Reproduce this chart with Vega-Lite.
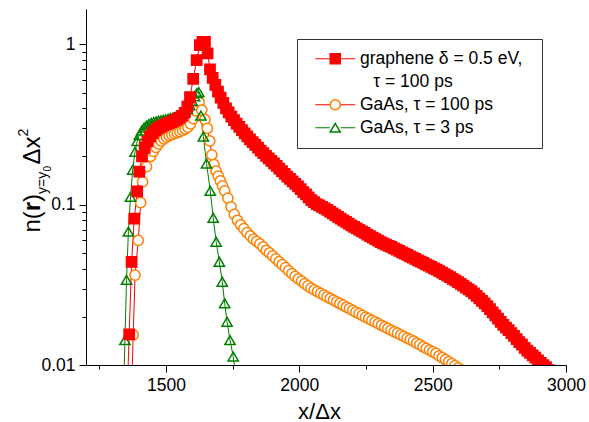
{
  "$schema": "https://vega.github.io/schema/vega-lite/v6.json",
  "width": 480,
  "height": 356,
  "autosize": {"type": "none"},
  "padding": {"left": 86, "top": 9, "right": 23, "bottom": 57},
  "background": "white",
  "config": {
    "font": "Liberation Sans",
    "view": {"stroke": null},
    "axis": {
      "domainColor": "black", "domainWidth": 1, "tickColor": "black", "tickWidth": 1,
      "labelColor": "black", "labelFont": "Liberation Sans", "labelFontSize": 17.5,
      "titleColor": "black", "titleFont": "Liberation Sans", "titleFontWeight": "normal",
      "grid": false, "labelFlush": false, "labelOverlap": false, "labelBound": false
    },
    "legend": {"labelFont": "Liberation Sans", "labelFontSize": 17.5}
  },
  "datasets": {
    "curves": [
      {"s":"GaAs100","x":1370,"n":0.006},{"s":"GaAs100","x":1377,"n":0.0154},{"s":"GaAs100","x":1384,"n":0.0364},{"s":"GaAs100","x":1396,"n":0.060},
      {"s":"GaAs100","x":1405,"n":0.103},{"s":"GaAs100","x":1412,"n":0.139},{"s":"GaAs100","x":1427,"n":0.173},{"s":"GaAs100","x":1442,"n":0.200},
      {"s":"GaAs100","x":1452,"n":0.215},{"s":"GaAs100","x":1462,"n":0.228},{"s":"GaAs100","x":1472,"n":0.240},{"s":"GaAs100","x":1482,"n":0.250},
      {"s":"GaAs100","x":1492,"n":0.258},{"s":"GaAs100","x":1502,"n":0.264},{"s":"GaAs100","x":1512,"n":0.270},{"s":"GaAs100","x":1522,"n":0.274},
      {"s":"GaAs100","x":1532,"n":0.278},{"s":"GaAs100","x":1542,"n":0.282},{"s":"GaAs100","x":1552,"n":0.286},{"s":"GaAs100","x":1562,"n":0.291},
      {"s":"GaAs100","x":1572,"n":0.297},{"s":"GaAs100","x":1582,"n":0.305},{"s":"GaAs100","x":1592,"n":0.320},{"s":"GaAs100","x":1602,"n":0.345},
      {"s":"GaAs100","x":1612,"n":0.385},{"s":"GaAs100","x":1624,"n":0.436},{"s":"GaAs100","x":1634,"n":0.390},{"s":"GaAs100","x":1646,"n":0.340},
      {"s":"GaAs100","x":1655,"n":0.300},{"s":"GaAs100","x":1664,"n":0.250},{"s":"GaAs100","x":1672,"n":0.205},{"s":"GaAs100","x":1680,"n":0.178},
      {"s":"GaAs100","x":1688,"n":0.162},{"s":"GaAs100","x":1696,"n":0.151},{"s":"GaAs100","x":1704,"n":0.141},{"s":"GaAs100","x":1712,"n":0.131},
      {"s":"GaAs100","x":1720,"n":0.122},{"s":"GaAs100","x":1732,"n":0.110},{"s":"GaAs100","x":1744,"n":0.097},{"s":"GaAs100","x":1756,"n":0.087},
      {"s":"GaAs100","x":1768,"n":0.080},{"s":"GaAs100","x":1780,"n":0.075},{"s":"GaAs100","x":1792,"n":0.071},{"s":"GaAs100","x":1804,"n":0.067},
      {"s":"GaAs100","x":1816,"n":0.064},{"s":"GaAs100","x":1828,"n":0.061},{"s":"GaAs100","x":1840,"n":0.059},{"s":"GaAs100","x":1852,"n":0.057},
      {"s":"GaAs100","x":1864,"n":0.0545},{"s":"GaAs100","x":1876,"n":0.052},{"s":"GaAs100","x":1888,"n":0.050},{"s":"GaAs100","x":1900,"n":0.048},
      {"s":"GaAs100","x":1912,"n":0.046},{"s":"GaAs100","x":1924,"n":0.0441},{"s":"GaAs100","x":1936,"n":0.0423},{"s":"GaAs100","x":1948,"n":0.0405},
      {"s":"GaAs100","x":1960,"n":0.0388},{"s":"GaAs100","x":1972,"n":0.0372},{"s":"GaAs100","x":1984,"n":0.0357},{"s":"GaAs100","x":1996,"n":0.0345},
      {"s":"GaAs100","x":2008,"n":0.0334},{"s":"GaAs100","x":2020,"n":0.0322},{"s":"GaAs100","x":2032,"n":0.0312},{"s":"GaAs100","x":2044,"n":0.0302},
      {"s":"GaAs100","x":2056,"n":0.0294},{"s":"GaAs100","x":2068,"n":0.0287},{"s":"GaAs100","x":2080,"n":0.0280},{"s":"GaAs100","x":2092,"n":0.0273},
      {"s":"GaAs100","x":2104,"n":0.0266},{"s":"GaAs100","x":2116,"n":0.0260},{"s":"GaAs100","x":2128,"n":0.0254},{"s":"GaAs100","x":2140,"n":0.0248},
      {"s":"GaAs100","x":2152,"n":0.0242},{"s":"GaAs100","x":2164,"n":0.0236},{"s":"GaAs100","x":2176,"n":0.0230},{"s":"GaAs100","x":2188,"n":0.0225},
      {"s":"GaAs100","x":2200,"n":0.0219},{"s":"GaAs100","x":2212,"n":0.0214},{"s":"GaAs100","x":2224,"n":0.0209},{"s":"GaAs100","x":2236,"n":0.0204},
      {"s":"GaAs100","x":2248,"n":0.0199},{"s":"GaAs100","x":2260,"n":0.0195},{"s":"GaAs100","x":2272,"n":0.0190},{"s":"GaAs100","x":2284,"n":0.0186},
      {"s":"GaAs100","x":2296,"n":0.0181},{"s":"GaAs100","x":2308,"n":0.0177},{"s":"GaAs100","x":2320,"n":0.0173},{"s":"GaAs100","x":2332,"n":0.0169},
      {"s":"GaAs100","x":2344,"n":0.0165},{"s":"GaAs100","x":2356,"n":0.0161},{"s":"GaAs100","x":2368,"n":0.0158},{"s":"GaAs100","x":2380,"n":0.0154},
      {"s":"GaAs100","x":2392,"n":0.0151},{"s":"GaAs100","x":2404,"n":0.0147},{"s":"GaAs100","x":2416,"n":0.0144},{"s":"GaAs100","x":2428,"n":0.0141},
      {"s":"GaAs100","x":2440,"n":0.0137},{"s":"GaAs100","x":2452,"n":0.0134},{"s":"GaAs100","x":2464,"n":0.0130},{"s":"GaAs100","x":2476,"n":0.0127},
      {"s":"GaAs100","x":2488,"n":0.0124},{"s":"GaAs100","x":2500,"n":0.0121},{"s":"GaAs100","x":2512,"n":0.0118},{"s":"GaAs100","x":2524,"n":0.0114},
      {"s":"GaAs100","x":2536,"n":0.0111},{"s":"GaAs100","x":2548,"n":0.0108},{"s":"GaAs100","x":2560,"n":0.0105},{"s":"GaAs100","x":2572,"n":0.0102},
      {"s":"GaAs100","x":2584,"n":0.0099},{"s":"GaAs100","x":2596,"n":0.0096},{"s":"GaAs100","x":2608,"n":0.0093},

      {"s":"GaAs3","x":1340,"n":0.006},{"s":"GaAs3","x":1346,"n":0.0143},{"s":"GaAs3","x":1352,"n":0.034},{"s":"GaAs3","x":1359,"n":0.068},
      {"s":"GaAs3","x":1367,"n":0.112},{"s":"GaAs3","x":1375,"n":0.165},{"s":"GaAs3","x":1384,"n":0.214},{"s":"GaAs3","x":1392,"n":0.250},
      {"s":"GaAs3","x":1400,"n":0.272},{"s":"GaAs3","x":1409,"n":0.290},{"s":"GaAs3","x":1418,"n":0.303},{"s":"GaAs3","x":1427,"n":0.312},
      {"s":"GaAs3","x":1436,"n":0.319},{"s":"GaAs3","x":1445,"n":0.324},{"s":"GaAs3","x":1454,"n":0.328},{"s":"GaAs3","x":1463,"n":0.331},
      {"s":"GaAs3","x":1472,"n":0.334},{"s":"GaAs3","x":1481,"n":0.336},{"s":"GaAs3","x":1490,"n":0.339},{"s":"GaAs3","x":1499,"n":0.341},
      {"s":"GaAs3","x":1508,"n":0.344},{"s":"GaAs3","x":1517,"n":0.347},{"s":"GaAs3","x":1526,"n":0.350},{"s":"GaAs3","x":1535,"n":0.353},
      {"s":"GaAs3","x":1544,"n":0.357},{"s":"GaAs3","x":1553,"n":0.362},{"s":"GaAs3","x":1562,"n":0.369},{"s":"GaAs3","x":1571,"n":0.380},
      {"s":"GaAs3","x":1580,"n":0.395},{"s":"GaAs3","x":1589,"n":0.418},{"s":"GaAs3","x":1598,"n":0.445},{"s":"GaAs3","x":1607,"n":0.475},
      {"s":"GaAs3","x":1616,"n":0.497},{"s":"GaAs3","x":1623,"n":0.504},{"s":"GaAs3","x":1631,"n":0.360},{"s":"GaAs3","x":1640,"n":0.266},
      {"s":"GaAs3","x":1652,"n":0.181},{"s":"GaAs3","x":1666,"n":0.122},{"s":"GaAs3","x":1677,"n":0.083},{"s":"GaAs3","x":1688,"n":0.0588},
      {"s":"GaAs3","x":1700,"n":0.0441},{"s":"GaAs3","x":1711,"n":0.0331},{"s":"GaAs3","x":1720,"n":0.0243},{"s":"GaAs3","x":1729,"n":0.0186},
      {"s":"GaAs3","x":1740,"n":0.0143},{"s":"GaAs3","x":1752,"n":0.0113},{"s":"GaAs3","x":1762,"n":0.0085},

      {"s":"graphene","x":1352,"n":0.005},{"s":"graphene","x":1362,"n":0.0155},{"s":"graphene","x":1371,"n":0.044},{"s":"graphene","x":1381,"n":0.082},
      {"s":"graphene","x":1392,"n":0.121},{"s":"graphene","x":1400,"n":0.161},{"s":"graphene","x":1410,"n":0.200},{"s":"graphene","x":1420,"n":0.226},
      {"s":"graphene","x":1430,"n":0.248},{"s":"graphene","x":1440,"n":0.266},{"s":"graphene","x":1450,"n":0.280},{"s":"graphene","x":1460,"n":0.291},
      {"s":"graphene","x":1470,"n":0.300},{"s":"graphene","x":1480,"n":0.307},{"s":"graphene","x":1490,"n":0.313},{"s":"graphene","x":1500,"n":0.318},
      {"s":"graphene","x":1510,"n":0.323},{"s":"graphene","x":1520,"n":0.328},{"s":"graphene","x":1530,"n":0.334},{"s":"graphene","x":1540,"n":0.340},
      {"s":"graphene","x":1550,"n":0.348},{"s":"graphene","x":1560,"n":0.358},{"s":"graphene","x":1570,"n":0.375},{"s":"graphene","x":1580,"n":0.410},
      {"s":"graphene","x":1590,"n":0.470},{"s":"graphene","x":1602,"n":0.610},{"s":"graphene","x":1615,"n":0.800},{"s":"graphene","x":1627,"n":0.990},
      {"s":"graphene","x":1637,"n":1.040},{"s":"graphene","x":1646,"n":1.040},{"s":"graphene","x":1656,"n":0.880},{"s":"graphene","x":1665,"n":0.700},
      {"s":"graphene","x":1675,"n":0.620},{"s":"graphene","x":1685,"n":0.560},{"s":"graphene","x":1695,"n":0.508},{"s":"graphene","x":1705,"n":0.466},
      {"s":"graphene","x":1715,"n":0.432},{"s":"graphene","x":1725,"n":0.400},{"s":"graphene","x":1735,"n":0.377},{"s":"graphene","x":1745,"n":0.355},
      {"s":"graphene","x":1755,"n":0.337},{"s":"graphene","x":1765,"n":0.321},{"s":"graphene","x":1775,"n":0.306},{"s":"graphene","x":1785,"n":0.292},
      {"s":"graphene","x":1795,"n":0.279},{"s":"graphene","x":1805,"n":0.267},{"s":"graphene","x":1815,"n":0.256},{"s":"graphene","x":1825,"n":0.246},
      {"s":"graphene","x":1835,"n":0.236},{"s":"graphene","x":1845,"n":0.227},{"s":"graphene","x":1855,"n":0.218},{"s":"graphene","x":1865,"n":0.210},
      {"s":"graphene","x":1875,"n":0.202},{"s":"graphene","x":1885,"n":0.195},{"s":"graphene","x":1895,"n":0.188},{"s":"graphene","x":1905,"n":0.181},
      {"s":"graphene","x":1915,"n":0.175},{"s":"graphene","x":1925,"n":0.168},{"s":"graphene","x":1935,"n":0.162},{"s":"graphene","x":1945,"n":0.156},
      {"s":"graphene","x":1955,"n":0.150},{"s":"graphene","x":1965,"n":0.145},{"s":"graphene","x":1975,"n":0.140},{"s":"graphene","x":1985,"n":0.135},
      {"s":"graphene","x":1995,"n":0.130},{"s":"graphene","x":2005,"n":0.125},{"s":"graphene","x":2015,"n":0.120},{"s":"graphene","x":2025,"n":0.116},
      {"s":"graphene","x":2035,"n":0.111},{"s":"graphene","x":2045,"n":0.107},{"s":"graphene","x":2055,"n":0.104},{"s":"graphene","x":2065,"n":0.101},
      {"s":"graphene","x":2075,"n":0.099},{"s":"graphene","x":2085,"n":0.097},{"s":"graphene","x":2095,"n":0.095},{"s":"graphene","x":2105,"n":0.093},
      {"s":"graphene","x":2115,"n":0.0905},{"s":"graphene","x":2125,"n":0.0883},{"s":"graphene","x":2135,"n":0.0861},{"s":"graphene","x":2145,"n":0.0840},
      {"s":"graphene","x":2155,"n":0.0820},{"s":"graphene","x":2165,"n":0.0800},{"s":"graphene","x":2175,"n":0.0781},{"s":"graphene","x":2185,"n":0.0762},
      {"s":"graphene","x":2195,"n":0.0744},{"s":"graphene","x":2205,"n":0.0727},{"s":"graphene","x":2215,"n":0.0711},{"s":"graphene","x":2225,"n":0.0696},
      {"s":"graphene","x":2235,"n":0.0681},{"s":"graphene","x":2245,"n":0.0667},{"s":"graphene","x":2255,"n":0.0652},{"s":"graphene","x":2265,"n":0.0638},
      {"s":"graphene","x":2275,"n":0.0624},{"s":"graphene","x":2285,"n":0.0610},{"s":"graphene","x":2295,"n":0.0597},{"s":"graphene","x":2305,"n":0.0585},
      {"s":"graphene","x":2315,"n":0.0574},{"s":"graphene","x":2325,"n":0.0564},{"s":"graphene","x":2335,"n":0.0554},{"s":"graphene","x":2345,"n":0.0545},
      {"s":"graphene","x":2355,"n":0.0535},{"s":"graphene","x":2365,"n":0.0525},{"s":"graphene","x":2375,"n":0.0515},{"s":"graphene","x":2385,"n":0.0505},
      {"s":"graphene","x":2395,"n":0.0495},{"s":"graphene","x":2405,"n":0.0486},{"s":"graphene","x":2415,"n":0.0477},{"s":"graphene","x":2425,"n":0.0468},
      {"s":"graphene","x":2435,"n":0.0459},{"s":"graphene","x":2445,"n":0.0450},{"s":"graphene","x":2455,"n":0.0441},{"s":"graphene","x":2465,"n":0.0433},
      {"s":"graphene","x":2475,"n":0.0425},{"s":"graphene","x":2485,"n":0.0417},{"s":"graphene","x":2495,"n":0.0409},{"s":"graphene","x":2505,"n":0.0401},
      {"s":"graphene","x":2515,"n":0.0393},{"s":"graphene","x":2525,"n":0.0385},{"s":"graphene","x":2535,"n":0.0377},{"s":"graphene","x":2545,"n":0.0369},
      {"s":"graphene","x":2555,"n":0.0361},{"s":"graphene","x":2565,"n":0.0353},{"s":"graphene","x":2575,"n":0.0345},{"s":"graphene","x":2585,"n":0.0337},
      {"s":"graphene","x":2595,"n":0.0329},{"s":"graphene","x":2605,"n":0.0321},{"s":"graphene","x":2615,"n":0.0313},{"s":"graphene","x":2625,"n":0.0304},
      {"s":"graphene","x":2635,"n":0.0296},{"s":"graphene","x":2645,"n":0.0289},{"s":"graphene","x":2655,"n":0.0280},{"s":"graphene","x":2665,"n":0.0270},
      {"s":"graphene","x":2675,"n":0.0260},{"s":"graphene","x":2685,"n":0.0251},{"s":"graphene","x":2695,"n":0.0242},{"s":"graphene","x":2705,"n":0.0233},
      {"s":"graphene","x":2715,"n":0.0223},{"s":"graphene","x":2725,"n":0.0213},{"s":"graphene","x":2735,"n":0.0204},{"s":"graphene","x":2745,"n":0.0195},
      {"s":"graphene","x":2755,"n":0.0186},{"s":"graphene","x":2765,"n":0.0178},{"s":"graphene","x":2775,"n":0.0171},{"s":"graphene","x":2785,"n":0.0165},
      {"s":"graphene","x":2795,"n":0.0158},{"s":"graphene","x":2805,"n":0.0152},{"s":"graphene","x":2815,"n":0.0145},{"s":"graphene","x":2825,"n":0.0139},
      {"s":"graphene","x":2835,"n":0.0134},{"s":"graphene","x":2845,"n":0.0128},{"s":"graphene","x":2855,"n":0.0123},{"s":"graphene","x":2865,"n":0.0119},
      {"s":"graphene","x":2875,"n":0.0115},{"s":"graphene","x":2885,"n":0.0111},{"s":"graphene","x":2895,"n":0.0107},{"s":"graphene","x":2905,"n":0.0103},
      {"s":"graphene","x":2915,"n":0.0100},{"s":"graphene","x":2925,"n":0.0097},{"s":"graphene","x":2935,"n":0.0093},{"s":"graphene","x":2945,"n":0.0089}
    ]
  },
  "data": {"name": "curves"},
  "resolve": {
    "scale": {"stroke": "independent", "fill": "independent", "size": "independent"},
    "axis": {"y": "independent"}
  },
  "layer": [
    {
      "mark": {"type": "line", "strokeWidth": 1, "clip": true},
      "encoding": {
        "x": {
          "field": "x", "type": "quantitative",
          "scale": {"domain": [1200, 3000], "nice": false, "zero": false},
          "axis": {
            "values": [1250, 1500, 1750, 2000, 2250, 2500, 2750, 3000],
            "format": "d",
            "labelExpr": "datum.value % 500 == 0 ? datum.label : ''",
            "tickSize": {"condition": {"test": "datum.value % 500 == 0", "value": 7}, "value": 4},
            "labelPadding": 4,
            "title": "x/Δx", "titleFontSize": 22,
            "titleX": 233, "titleY": 53, "titleAlign": "center", "titleBaseline": "alphabetic"
          }
        },
        "y": {
          "field": "n", "type": "quantitative",
          "scale": {"type": "log", "domain": [0.01, 1.665], "nice": false},
          "axis": {
            "orient": "left",
            "values": [0.01,0.02,0.03,0.04,0.05,0.06,0.07,0.08,0.09,0.1,0.2,0.3,0.4,0.5,0.6,0.7,0.8,0.9,1],
            "format": "~g",
            "labelExpr": "datum.value == 0.01 || datum.value == 0.1 || datum.value == 1 ? datum.label : ''",
            "tickSize": {"condition": {"test": "datum.value == 0.01 || datum.value == 0.1 || datum.value == 1", "value": 7}, "value": 4},
            "labelPadding": 4,
            "title": "n(", "titleX": -47, "titleY": 223, "titleAngle": 270,
            "titleAlign": "left", "titleBaseline": "alphabetic", "titleFontSize": 24
          }
        },
        "stroke": {
          "field": "s", "type": "nominal",
          "scale": {"domain": ["graphene", "graphene2", "GaAs100", "GaAs3"], "range": ["#ff0000", "transparent", "#ff0000", "#008000"]},
          "legend": {
            "orient": "none", "legendX": 211, "legendY": 30, "title": null,
            "symbolType": "M-4,0H-1.1M1.1,0H4", "symbolSize": 100, "symbolStrokeWidth": 1,
            "symbolOffset": 18.5, "labelOffset": 16, "labelLimit": 400,
            "labelColor": "transparent", "padding": 11, "rowPadding": 4,
            "labelExpr": "datum.value == 'graphene' ? 'graphene δ = 0.5 eV,\u00a0\u2009\u200b' : datum.value == 'graphene2' ? '\u200b\u00a0\u00a0\u2009τ = 100 ps' : datum.value == 'GaAs100' ? 'GaAs, τ = 100 ps' : 'GaAs, τ = 3 ps'"
          }
        }
      }
    },
    {
      "mark": {"type": "point", "strokeWidth": 1.5, "opacity": 1, "clip": true},
      "encoding": {
        "x": {"field": "x", "type": "quantitative"},
        "y": {
          "field": "n", "type": "quantitative",
          "axis": {
            "orient": "left", "domain": false, "ticks": false, "labels": false,
            "title": "r", "titleX": -47, "titleY": 201.7, "titleAngle": 270,
            "titleAlign": "left", "titleBaseline": "alphabetic", "titleFontSize": 24, "titleFontWeight": "bold"
          }
        },
        "shape": {
          "field": "s", "type": "nominal",
          "scale": {"domain": ["graphene", "graphene2", "GaAs100", "GaAs3"], "range": ["square", "square", "circle", "triangle-up"]},
          "legend": {
            "orient": "none", "legendX": 211, "legendY": 30, "title": null,
            "symbolSize": 100, "symbolStrokeWidth": 1.5,
            "symbolOffset": 18.5, "labelOffset": 16, "labelLimit": 400,
            "labelColor": "black", "padding": 11, "rowPadding": 4,
            "strokeColor": "#333333",
            "symbolFillColor": {"expr": "datum.value == 'graphene' ? '#ff0000' : datum.value == 'GaAs100' ? 'white' : 'transparent'"},
            "symbolStrokeColor": {"expr": "datum.value == 'graphene' ? '#ff0000' : datum.value == 'GaAs100' ? '#ff8000' : datum.value == 'GaAs3' ? '#008000' : 'transparent'"},
            "labelExpr": "datum.value == 'graphene' ? 'graphene δ = 0.5 eV,\u00a0\u2009\u200b' : datum.value == 'graphene2' ? '\u200b\u00a0\u00a0\u2009τ = 100 ps' : datum.value == 'GaAs100' ? 'GaAs, τ = 100 ps' : 'GaAs, τ = 3 ps'"
          }
        },
        "stroke": {
          "field": "s", "type": "nominal", "legend": null,
          "scale": {"domain": ["graphene", "graphene2", "GaAs100", "GaAs3"], "range": ["#ff0000", "transparent", "#ff8000", "#008000"]}
        },
        "fill": {
          "field": "s", "type": "nominal", "legend": null,
          "scale": {"domain": ["graphene", "graphene2", "GaAs100", "GaAs3"], "range": ["#ff0000", "transparent", "white", "transparent"]}
        },
        "size": {
          "field": "s", "type": "nominal", "legend": null,
          "scale": {"domain": ["graphene", "graphene2", "GaAs100", "GaAs3"], "range": [105, 105, 86, 144]}
        }
      }
    },
    {
      "transform": [{"filter": "false"}],
      "mark": "point",
      "encoding": {"y": {"field": "n", "type": "quantitative", "axis": {
        "orient": "left", "domain": false, "ticks": false, "labels": false,
        "title": ")", "titleX": -47, "titleY": 192.4, "titleAngle": 270,
        "titleAlign": "left", "titleBaseline": "alphabetic", "titleFontSize": 24}}}
    },
    {
      "transform": [{"filter": "false"}],
      "mark": "point",
      "encoding": {"y": {"field": "n", "type": "quantitative", "axis": {
        "orient": "left", "domain": false, "ticks": false, "labels": false,
        "title": "y=y", "titleX": -40, "titleY": 184.4, "titleAngle": 270,
        "titleAlign": "left", "titleBaseline": "alphabetic", "titleFontSize": 14}}}
    },
    {
      "transform": [{"filter": "false"}],
      "mark": "point",
      "encoding": {"y": {"field": "n", "type": "quantitative", "axis": {
        "orient": "left", "domain": false, "ticks": false, "labels": false,
        "title": "0", "titleX": -36, "titleY": 162, "titleAngle": 270,
        "titleAlign": "left", "titleBaseline": "alphabetic", "titleFontSize": 10}}}
    },
    {
      "transform": [{"filter": "false"}],
      "mark": "point",
      "encoding": {"y": {"field": "n", "type": "quantitative", "axis": {
        "orient": "left", "domain": false, "ticks": false, "labels": false,
        "title": "Δx", "titleX": -47, "titleY": 155, "titleAngle": 270,
        "titleAlign": "left", "titleBaseline": "alphabetic", "titleFontSize": 24}}}
    },
    {
      "transform": [{"filter": "false"}],
      "mark": "point",
      "encoding": {"y": {"field": "n", "type": "quantitative", "axis": {
        "orient": "left", "domain": false, "ticks": false, "labels": false,
        "title": "2", "titleX": -59, "titleY": 127, "titleAngle": 270,
        "titleAlign": "left", "titleBaseline": "alphabetic", "titleFontSize": 14}}}
    }
  ]
}
